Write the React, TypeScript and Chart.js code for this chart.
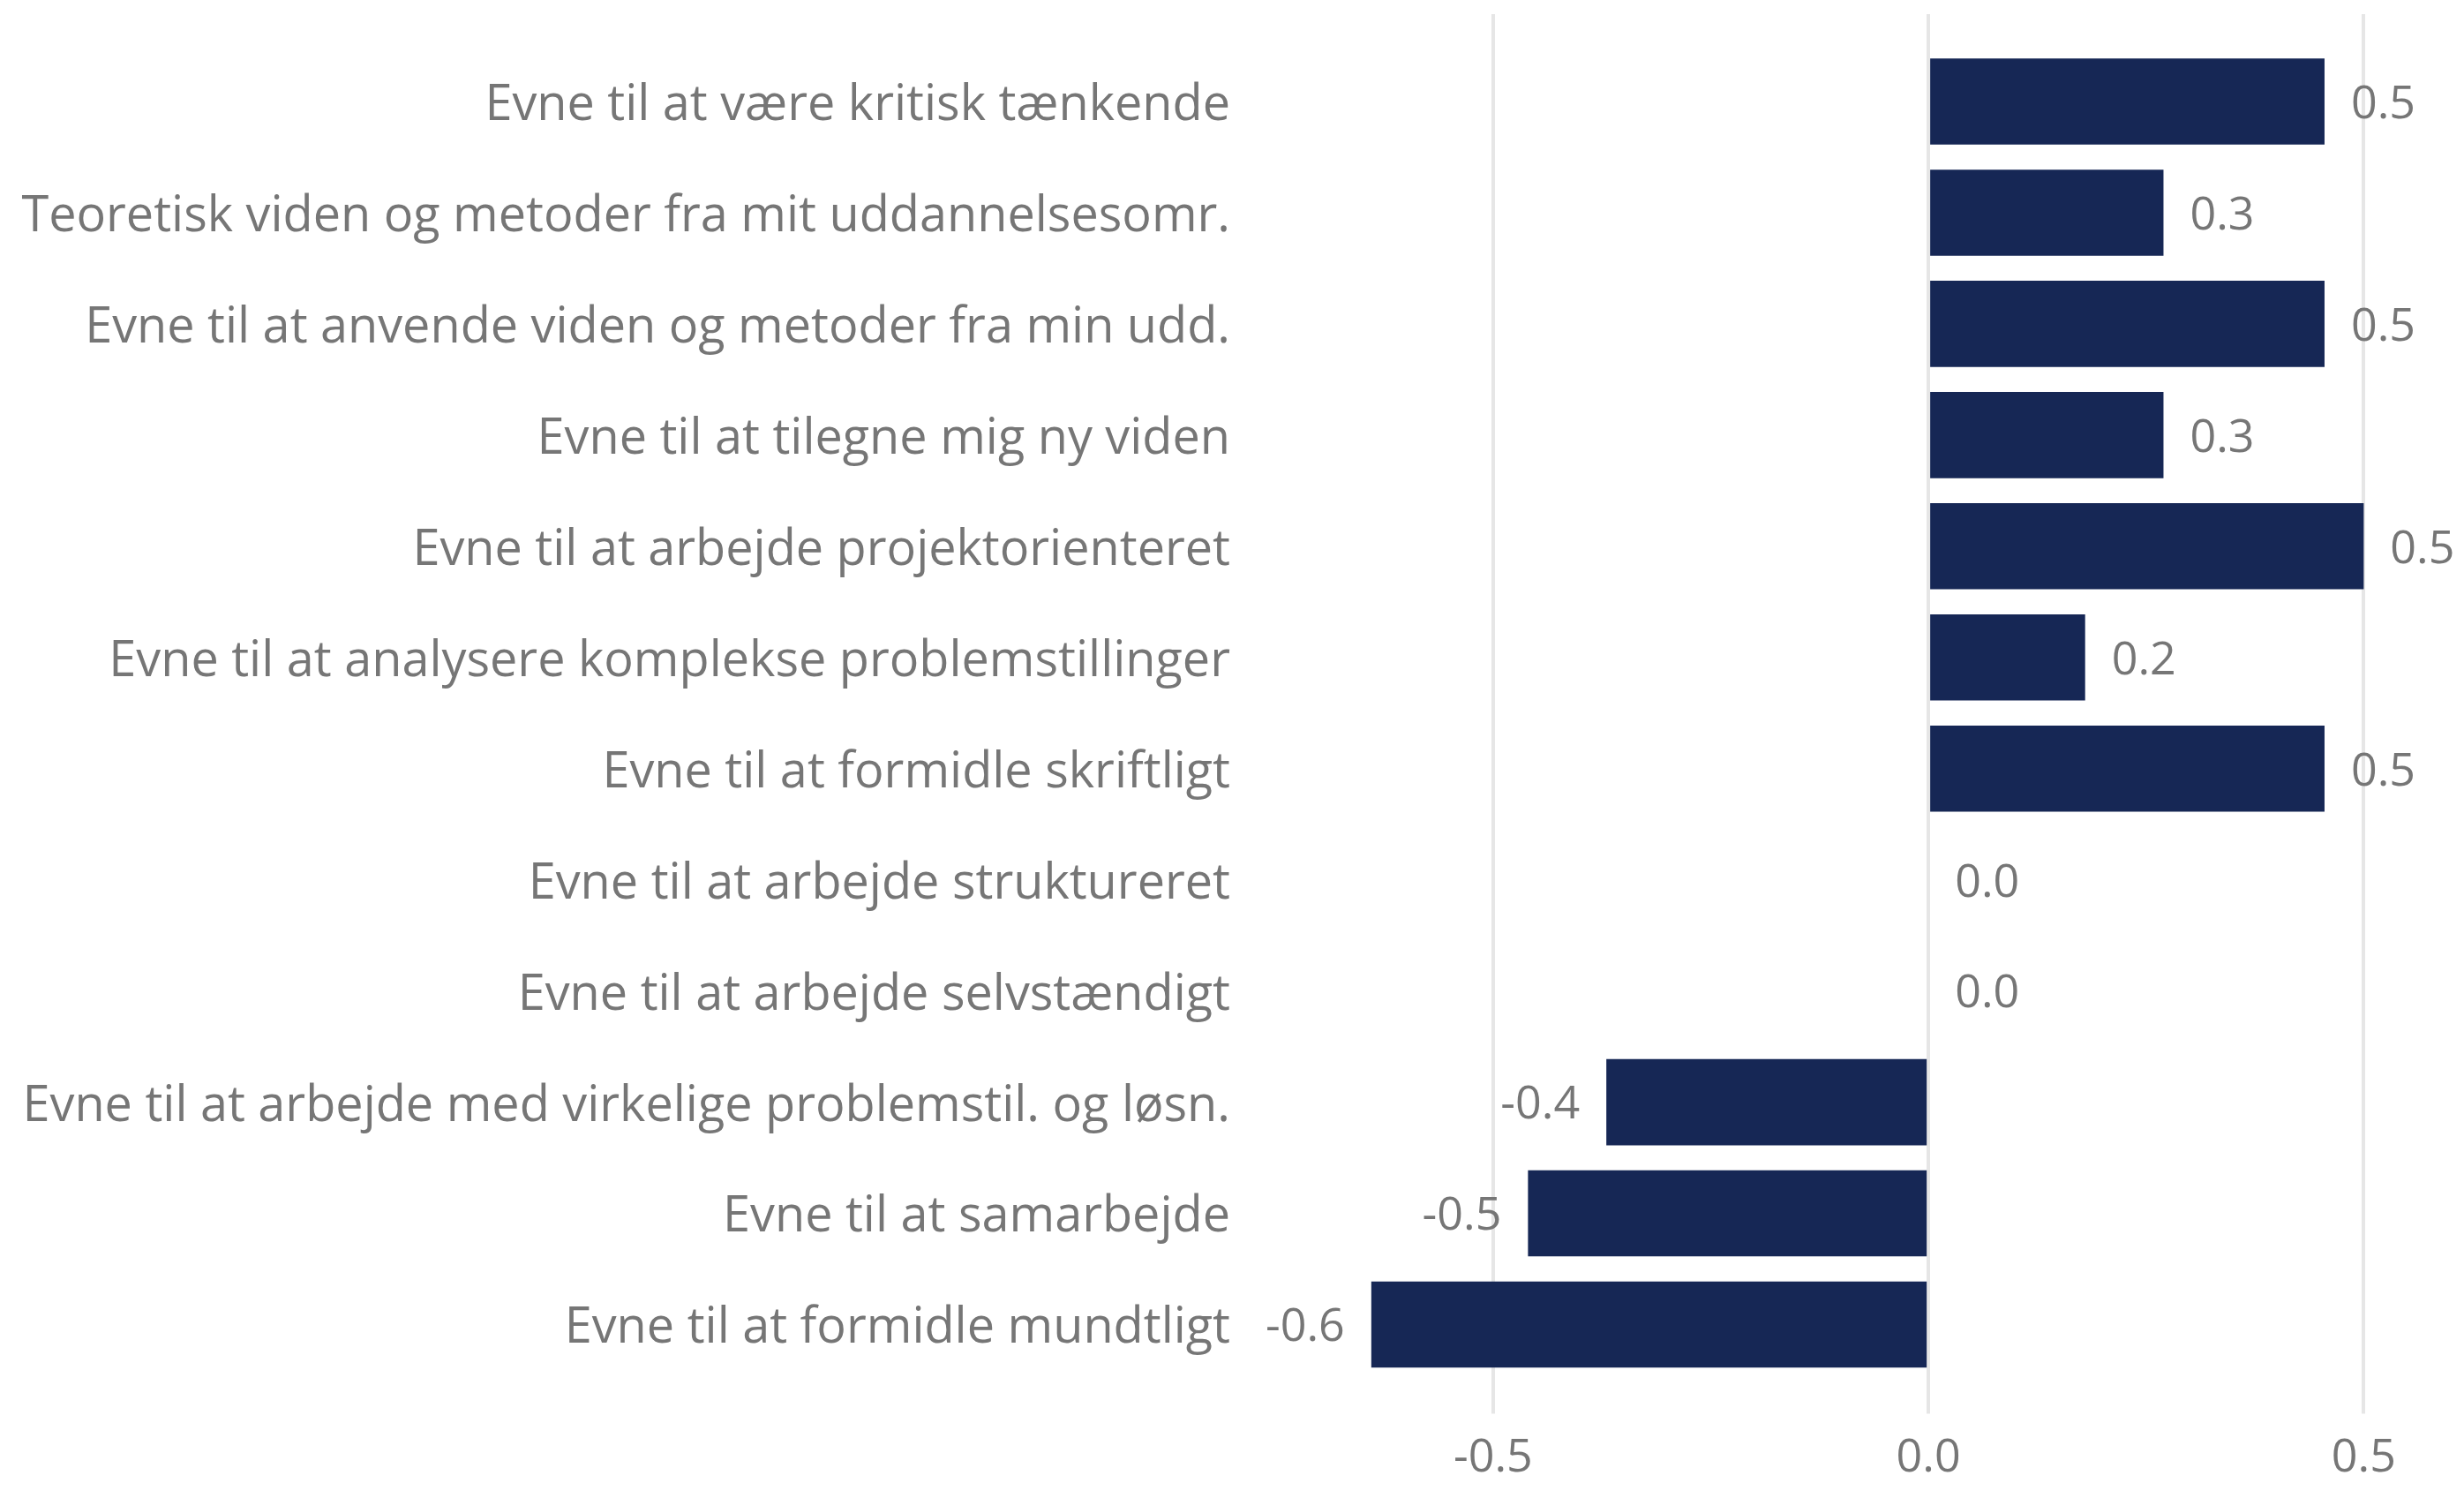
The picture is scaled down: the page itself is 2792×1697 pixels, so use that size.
import React, { useEffect, useRef } from "react";
import { Chart, registerables } from "chart.js";

Chart.register(...registerables);

const categories: string[] = [
  "Evne til at være kritisk tænkende",
  "Teoretisk viden og metoder fra mit uddannelsesomr.",
  "Evne til at anvende viden og metoder fra min udd.",
  "Evne til at tilegne mig ny viden",
  "Evne til at arbejde projektorienteret",
  "Evne til at analysere komplekse problemstillinger",
  "Evne til at formidle skriftligt",
  "Evne til at arbejde struktureret",
  "Evne til at arbejde selvstændigt",
  "Evne til at arbejde med virkelige problemstil. og løsn.",
  "Evne til at samarbejde",
  "Evne til at formidle mundtligt",
];

const values: number[] = [0.455, 0.27, 0.455, 0.27, 0.5, 0.18, 0.455, 0.0, 0.0, -0.37, -0.46, -0.64];

const xTicks: number[] = [-0.5, 0, 0.5];

const BAR_COLOR = "#162755";
const TEXT_COLOR = "#767676";
const GRID_COLOR = "#e6e6e6";
const FONT = "'Open Sans', 'Noto Sans', sans-serif";

const valueLabels = {
  id: "valueLabels",
  afterDatasetsDraw(chart: any) {
    const ctx = chart.ctx;
    const meta = chart.getDatasetMeta(0);
    const data = chart.data.datasets[0].data as number[];
    ctx.save();
    ctx.font = `52px ${FONT}`;
    ctx.fillStyle = TEXT_COLOR;
    ctx.textBaseline = "middle";
    meta.data.forEach((el: any, i: number) => {
      const v = data[i];
      const txt = v.toFixed(1);
      if (v < 0) {
        ctx.textAlign = "right";
        ctx.fillText(txt, el.x - 30, el.y + 4);
      } else {
        ctx.textAlign = "left";
        ctx.fillText(txt, el.x + 30, el.y + 4);
      }
    });
    ctx.restore();
  },
};

export default function App() {
  const ref = useRef<HTMLCanvasElement | null>(null);

  useEffect(() => {
    if (!ref.current) return;
    const setTicks = (scale: any) => {
      scale.ticks = xTicks.map((v) => ({ value: v }));
    };
    const chart = new Chart(ref.current, {
      type: "bar",
      data: {
        labels: categories,
        datasets: [
          {
            data: values,
            backgroundColor: BAR_COLOR,
            borderWidth: 0,
            categoryPercentage: 1,
            barPercentage: 0.775,
          },
        ],
      },
      options: {
        indexAxis: "y",
        animation: false,
        responsive: false,
        maintainAspectRatio: false,
        layout: { padding: { top: 16, right: 15, left: 0, bottom: 0 } },
        plugins: {
          legend: { display: false },
          tooltip: { enabled: false },
        },
        scales: {
          x: {
            type: "linear",
            position: "bottom",
            min: -0.8,
            max: 0.6,
            afterBuildTicks: setTicks,
            afterFit: (scale: any) => {
              scale.height = 133.5;
            },
            border: { display: false },
            grid: {
              color: GRID_COLOR,
              lineWidth: 4,
              drawTicks: true,
              tickLength: 38,
            },
            ticks: {
              padding: 19,
              color: TEXT_COLOR,
              font: { family: FONT, size: 52 },
              callback: (v: any) => Number(v).toFixed(1),
            },
          },
          x2: {
            type: "linear",
            position: "top",
            min: -0.8,
            max: 0.6,
            afterBuildTicks: setTicks,
            afterFit: (scale: any) => {
              scale.height = 36;
            },
            border: { display: false },
            grid: {
              color: GRID_COLOR,
              lineWidth: 4,
              drawOnChartArea: false,
              drawTicks: true,
              tickLength: 36,
            },
            ticks: { display: false },
          },
          y: {
            type: "category",
            afterFit: (scale: any) => {
              scale.width = 1396;
            },
            border: { display: false },
            grid: { display: false, drawTicks: false },
            ticks: {
              padding: 2,
              labelOffset: 5,
              color: TEXT_COLOR,
              font: { family: FONT, size: 55.8 },
            },
          },
        },
      },
      plugins: [valueLabels],
    });
    return () => chart.destroy();
  }, []);

  return (
    <div style={{ position: "fixed", left: 0, top: 0, width: 2792, height: 1697, background: "#fff" }}>
      <canvas ref={ref} width={2792} height={1697} style={{ display: "block", width: 2792, height: 1697 }} />
    </div>
  );
}
